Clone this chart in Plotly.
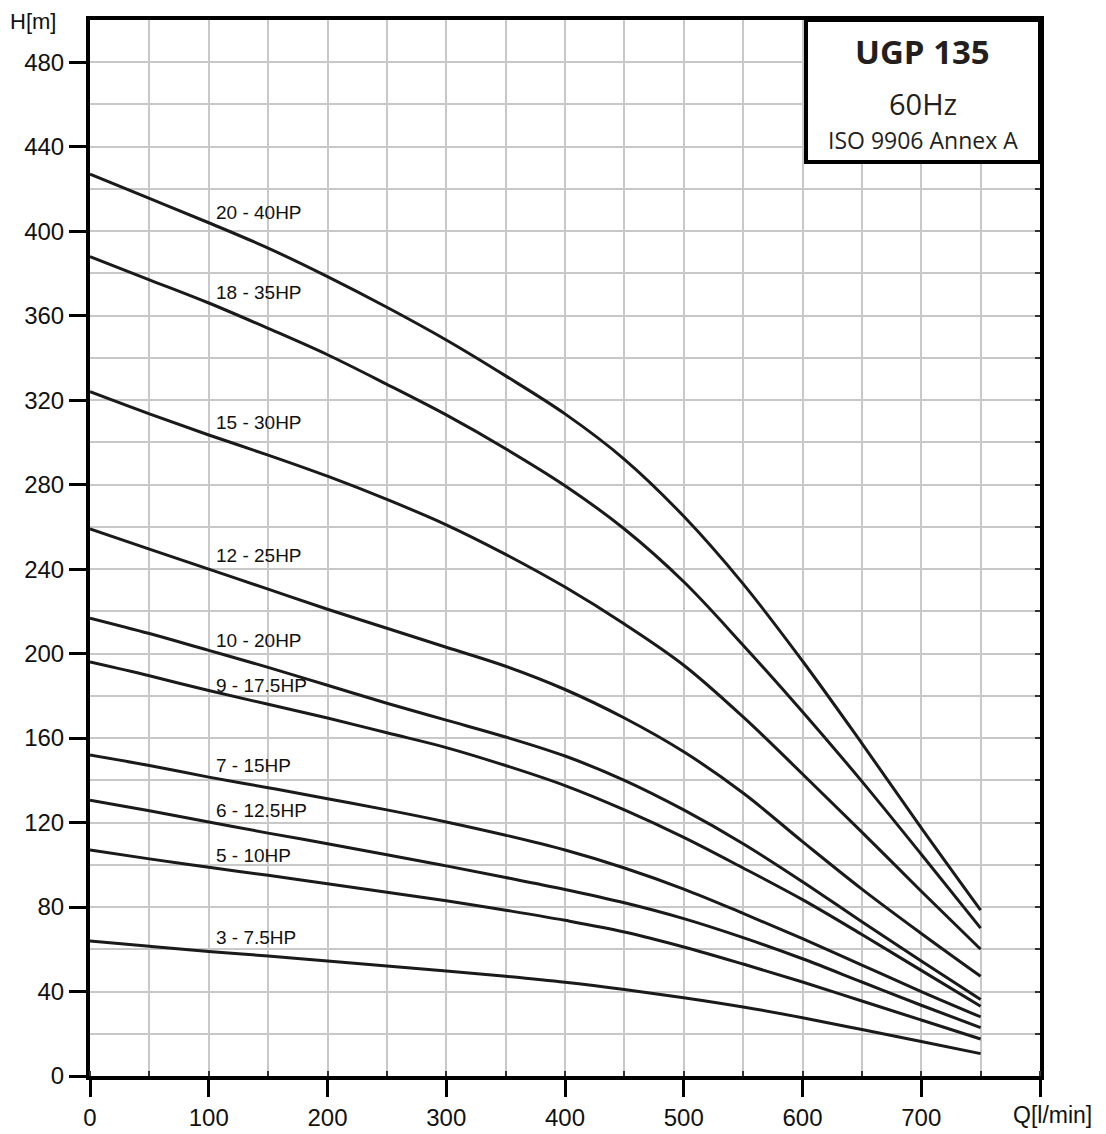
import plotly.graph_objects as go

# Flow rate Q [l/min]
Q = [0, 50, 100, 150, 200, 250, 300, 350, 400, 450, 500, 550, 600, 650, 700, 750]

# Head H [m] for each pump size
H_20_40 = [427, 415.5, 404, 392, 378.5, 364, 348.5, 331.5, 313.5, 292, 265, 233, 196.5, 157.5, 117.5, 78.5]
H_18_35 = [388, 377, 366, 354, 341.5, 327.5, 313, 297, 279.5, 259, 234, 204, 172.5, 139.5, 105, 70]
H_15_30 = [324, 313.5, 303.5, 294, 284, 273, 261, 247, 231.5, 214, 194.5, 170, 143, 115.5, 87.5, 60]
H_12_25 = [259, 249.5, 240, 230.5, 221, 212, 203, 194, 183, 169.5, 153.5, 134, 111, 88.5, 67.5, 47.2]
H_10_20 = [216.8, 209.5, 201.5, 193.5, 185, 176.5, 168.5, 160.5, 151.5, 140, 126, 110, 92, 73, 54.5, 36.2]
H_9_175 = [196, 189.5, 182.5, 176, 169.5, 162.5, 155.5, 147, 137.5, 126, 113, 98.5, 83.5, 67, 50, 33]
H_7_15 = [152, 147, 141.5, 136.5, 131.3, 126, 120.3, 114, 107, 98.5, 88.5, 77, 65, 52.5, 40, 28]
H_6_125 = [130.6, 125.6, 120.3, 115, 110, 104.8, 99.5, 94, 88.3, 82, 74.5, 65.5, 55.5, 44.5, 33.5, 22.9]
H_5_10 = [107, 102.8, 98.8, 95, 91, 87, 83, 78.5, 73.7, 68.2, 61.1, 53, 44.5, 35.5, 26.5, 17.5]
H_3_75 = [63.9, 61.4, 59, 56.8, 54.4, 52.1, 49.7, 47.2, 44.4, 41, 37.1, 32.7, 27.6, 22, 16.3, 10.6]

series = [H_20_40, H_18_35, H_15_30, H_12_25, H_10_20, H_9_175, H_7_15, H_6_125, H_5_10, H_3_75]

curve_labels = ["20 - 40HP", "18 - 35HP", "15 - 30HP", "12 - 25HP", "10 - 20HP",
                "9 - 17.5HP", "7 - 15HP", "6 - 12.5HP", "5 - 10HP", "3 - 7.5HP"]
label_x = [104, 104, 104, 104, 104, 104, 104, 104, 104, 104]
label_y = [409, 371, 309.5, 246.5, 206.2, 185, 147, 125.8, 104.5, 65.7]

x_tick_vals = [0, 100, 200, 300, 400, 500, 600, 700, 800]
x_tick_text = ["0", "100", "200", "300", "400", "500", "600", "700", ""]
y_tick_vals = [0, 40, 80, 120, 160, 200, 240, 280, 320, 360, 400, 440, 480]

title_main = "UGP 135"
title_freq = "60Hz"
title_std = "ISO 9906 Annex A"

fig = go.Figure()
for h, name in zip(series, curve_labels):
    fig.add_trace(go.Scatter(
        x=Q, y=h, mode="lines", name=name,
        line=dict(color="#1a1a1a", width=3, shape="spline", smoothing=1.0),
        hoverinfo="x+y+name", showlegend=False,
    ))

# invisible trace for right-side axis ticks
fig.add_trace(go.Scatter(x=[0], y=[0], yaxis="y2", mode="markers",
                         marker=dict(opacity=0), showlegend=False, hoverinfo="skip"))

for t, lx, ly in zip(curve_labels, label_x, label_y):
    fig.add_annotation(x=lx, y=ly, text=t, showarrow=False, xanchor="left", yanchor="middle",
                       font=dict(family="Liberation Sans, Arial", size=19, color="#111"))

grid_c = "#c8c8c8"
fig.update_layout(
    width=1098, height=1126,
    margin=dict(l=82, r=66, t=12, b=58, autoexpand=False),
    paper_bgcolor="white", plot_bgcolor="white",
    font=dict(family="Liberation Sans, Arial", color="#111"),
    xaxis=dict(
        range=[0, 800], tickmode="array", tickvals=x_tick_vals, ticktext=x_tick_text,
        showgrid=True, gridcolor=grid_c, gridwidth=1.5, automargin=False,
        ticks="outside", ticklen=17, tickwidth=3, tickcolor="black",
        tickfont=dict(size=24, color="#111"),
        showline=True, linewidth=4, linecolor="black", mirror=True,
        zeroline=False,
        minor=dict(dtick=50, tick0=0, showgrid=True, gridcolor=grid_c, gridwidth=1.5,
                   ticks="inside", ticklen=5, tickcolor="#333", tickwidth=1.5),
    ),
    yaxis=dict(
        range=[0, 500], tickmode="array", tickvals=y_tick_vals,
        showgrid=True, gridcolor=grid_c, gridwidth=1.5, automargin=False,
        ticks="outside", ticklen=17, tickwidth=3, tickcolor="black",
        tickfont=dict(size=24, color="#111"),
        showline=True, linewidth=4, linecolor="black", mirror=True,
        zeroline=False,
        minor=dict(dtick=20, tick0=0, showgrid=True, gridcolor=grid_c, gridwidth=1.5),
    ),
    yaxis2=dict(
        range=[0, 500], overlaying="y", side="right", showgrid=False, zeroline=False,
        tickmode="linear", tick0=0, dtick=20, ticks="inside", ticklen=5, tickwidth=1.5,
        tickcolor="#333", showticklabels=False, automargin=False,
    ),
)

# Title box
fig.add_shape(type="rect", xref="paper", yref="paper", x0=0.7537, x1=1.0, y0=0.8655, y1=1.0,
              line=dict(color="black", width=4), fillcolor="white", layer="above")
fig.add_annotation(xref="paper", yref="paper", x=0.8768, y=0.9697, text="<b>" + title_main + "</b>",
                   showarrow=False, xanchor="center", yanchor="middle",
                   font=dict(family="Open Sans", size=33, color="#231f20"))
fig.add_annotation(xref="paper", yref="paper", x=0.8768, y=0.9214, text=title_freq,
                   showarrow=False, xanchor="center", yanchor="middle",
                   font=dict(family="Open Sans", size=29, color="#231f20"))
fig.add_annotation(xref="paper", yref="paper", x=0.8768, y=0.8866, text=title_std,
                   showarrow=False, xanchor="center", yanchor="middle",
                   font=dict(family="Open Sans", size=23, color="#231f20"))

# Axis titles
fig.add_annotation(xref="paper", yref="paper", x=-0.0605, y=1.0112, text="H[m]",
                   showarrow=False, xanchor="center", yanchor="top", borderpad=0,
                   font=dict(family="Liberation Sans, Arial", size=22, color="#111"))
fig.add_annotation(xref="paper", yref="paper", x=0.9695, y=-0.0371, text="Q[l/min]",
                   showarrow=False, xanchor="left", yanchor="middle",
                   font=dict(family="Liberation Sans, Arial", size=23, color="#111"))

fig.write_html("out.html")
